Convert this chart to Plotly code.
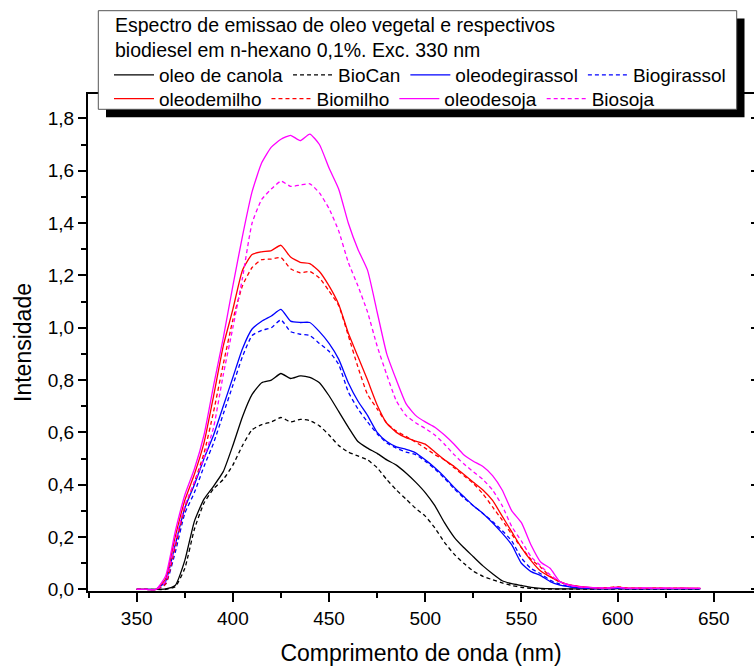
import plotly.graph_objects as go

# ---------------- data ----------------
wavelength = [350, 355, 360, 365, 370, 375, 380, 385, 390, 395,
              400, 405, 410, 415, 420, 425, 430, 435, 440, 445,
              450, 455, 460, 465, 470, 475, 480, 485, 490, 495,
              500, 505, 510, 515, 520, 525, 530, 535, 540, 545,
              550, 555, 560, 565, 570, 575, 580, 585, 590, 595,
              600, 605, 610, 615, 620, 625, 630, 635, 640, 643]

oleo_canola = [0, 0, 0, 0.002, 0.015, 0.11, 0.26, 0.345, 0.395, 0.45,
               0.55, 0.66, 0.745, 0.79, 0.80, 0.825, 0.806, 0.816, 0.81, 0.79,
               0.74, 0.68, 0.62, 0.565, 0.54, 0.52, 0.495, 0.475, 0.445, 0.41,
               0.37, 0.32, 0.255, 0.20, 0.16, 0.125, 0.09, 0.06, 0.033, 0.022,
               0.015, 0.008, 0.004, 0.003, 0.002, 0.002, 0.002, 0.002, 0.002, 0.002,
               0.003, 0.002, 0.002, 0.002, 0.002, 0.002, 0.002, 0.002, 0.002, 0.002]

biocan = [0, 0, 0, 0, 0.01, 0.08, 0.23, 0.33, 0.385, 0.42,
          0.475, 0.55, 0.61, 0.63, 0.64, 0.657, 0.64, 0.65, 0.645, 0.625,
          0.59, 0.55, 0.525, 0.51, 0.495, 0.465, 0.42, 0.38, 0.345, 0.31,
          0.28, 0.235, 0.18, 0.135, 0.10, 0.07, 0.05, 0.037, 0.025, 0.015,
          0.008, 0.004, 0.002, 0.001, 0.001, 0.001, 0.001, 0.001, 0.001, 0.001,
          0.002, 0.001, 0.001, 0.001, 0.001, 0.001, 0.001, 0.001, 0.001, 0.001]

oleo_girassol = [0, 0, 0, 0.03, 0.17, 0.31, 0.40, 0.50, 0.59, 0.70,
                 0.81, 0.92, 0.995, 1.025, 1.045, 1.07, 1.025, 1.02, 1.02, 0.985,
                 0.94, 0.88, 0.79, 0.72, 0.665, 0.60, 0.565, 0.545, 0.535, 0.522,
                 0.495, 0.465, 0.43, 0.39, 0.355, 0.32, 0.29, 0.255, 0.215, 0.17,
                 0.10, 0.068, 0.053, 0.03, 0.016, 0.01, 0.006, 0.004, 0.003, 0.003,
                 0.004, 0.003, 0.003, 0.003, 0.003, 0.003, 0.003, 0.003, 0.003, 0.003]

biogirassol = [0, 0, 0, 0.02, 0.14, 0.29, 0.37, 0.47, 0.56, 0.67,
               0.78, 0.89, 0.97, 0.99, 1.0, 1.03, 0.985, 0.975, 0.97, 0.94,
               0.91, 0.86, 0.755, 0.69, 0.64, 0.595, 0.56, 0.54, 0.525, 0.515,
               0.49, 0.46, 0.425, 0.385, 0.35, 0.32, 0.29, 0.26, 0.225, 0.185,
               0.12, 0.08, 0.06, 0.035, 0.02, 0.01, 0.006, 0.004, 0.003, 0.003,
               0.004, 0.003, 0.003, 0.003, 0.003, 0.003, 0.003, 0.003, 0.003, 0.003]

oleo_milho = [0, 0, 0, 0.04, 0.20, 0.34, 0.44, 0.56, 0.74, 0.93,
              1.07, 1.22, 1.28, 1.29, 1.295, 1.315, 1.27, 1.25, 1.245, 1.215,
              1.16, 1.09, 0.98, 0.89, 0.80, 0.705, 0.635, 0.60, 0.58, 0.567,
              0.555, 0.525, 0.495, 0.47, 0.44, 0.41, 0.38, 0.34, 0.28, 0.22,
              0.16, 0.11, 0.07, 0.048, 0.03, 0.017, 0.012, 0.008, 0.006, 0.005,
              0.009, 0.005, 0.005, 0.004, 0.005, 0.004, 0.004, 0.005, 0.004, 0.004]

biomilho = [0, 0, 0, 0.02, 0.16, 0.31, 0.41, 0.52, 0.68, 0.86,
            1.03, 1.16, 1.23, 1.26, 1.262, 1.268, 1.225, 1.21, 1.215, 1.19,
            1.14, 1.085, 0.97, 0.85, 0.745, 0.69, 0.635, 0.605, 0.585, 0.563,
            0.54, 0.515, 0.495, 0.465, 0.435, 0.405, 0.365, 0.315, 0.265, 0.21,
            0.16, 0.115, 0.085, 0.05, 0.028, 0.017, 0.01, 0.007, 0.006, 0.007,
            0.01, 0.005, 0.005, 0.004, 0.005, 0.004, 0.005, 0.004, 0.004, 0.004]

oleo_soja = [0, 0, 0, 0.05, 0.22, 0.36, 0.46, 0.59, 0.78, 0.96,
             1.16, 1.35, 1.52, 1.63, 1.69, 1.72, 1.735, 1.715, 1.74, 1.70,
             1.61, 1.53, 1.40, 1.30, 1.22, 1.06, 0.90, 0.80, 0.71, 0.665,
             0.64, 0.62, 0.59, 0.555, 0.515, 0.49, 0.47, 0.435, 0.38, 0.30,
             0.255, 0.17, 0.105, 0.08, 0.03, 0.017, 0.01, 0.008, 0.006, 0.005,
             0.008, 0.004, 0.005, 0.006, 0.004, 0.005, 0.004, 0.005, 0.004, 0.004]

biosoja = [0, 0, 0, 0.03, 0.18, 0.32, 0.41, 0.50, 0.62, 0.82,
           1.0, 1.19, 1.40, 1.49, 1.53, 1.56, 1.54, 1.545, 1.55, 1.515,
           1.455, 1.37, 1.25, 1.16, 1.06, 0.93, 0.82, 0.72, 0.665, 0.637,
           0.615, 0.59, 0.555, 0.515, 0.48, 0.45, 0.42, 0.38, 0.32, 0.24,
           0.185, 0.125, 0.09, 0.055, 0.03, 0.015, 0.01, 0.008, 0.006, 0.006,
           0.008, 0.005, 0.004, 0.005, 0.004, 0.005, 0.004, 0.004, 0.005, 0.004]

series_names = ["oleo de canola", "BioCan", "oleodegirassol", "Biogirassol",
                "oleodemilho", "Biomilho", "oleodesoja", "Biosoja"]
series_values = [oleo_canola, biocan, oleo_girassol, biogirassol,
                 oleo_milho, biomilho, oleo_soja, biosoja]
series_colors = ["#000000", "#000000", "#0000FF", "#0000FF",
                 "#FF0000", "#FF0000", "#FF00FF", "#FF00FF"]
series_dash = ["solid", "4px,3px", "solid", "4px,3px",
               "solid", "4px,3px", "solid", "4px,3px"]
series_legend = ["legend", "legend", "legend", "legend",
                 "legend2", "legend2", "legend2", "legend2"]

x_ticks = [350, 400, 450, 500, 550, 600, 650]
y_ticks = [0.0, 0.2, 0.4, 0.6, 0.8, 1.0, 1.2, 1.4, 1.6, 1.8]

title_line1 = "Espectro de emissao de oleo vegetal e respectivos"
title_line2 = "biodiesel em n-hexano 0,1%. Exc. 330 nm"

for v in series_values:
    assert len(v) == len(wavelength)

# ---------------- layout geometry (pixels) ----------------
W, H = 754, 666
ML, MR, MT, MB = 88, 0, 94, 75
PW = W - ML - MR
PH = H - MT - MB


def px(x):
    return (x - ML) / PW


def py(y):
    return (H - MB - y) / PH


FONT = "Liberation Sans, Arial, sans-serif"

fig = go.Figure()
for name, vals, col, dash, lg in zip(series_names, series_values, series_colors,
                                     series_dash, series_legend):
    fig.add_trace(go.Scatter(
        x=wavelength, y=vals, name=name, mode="lines",
        line=dict(color=col, width=1.3, dash=dash, shape="spline", smoothing=0.5),
        legend=lg,
    ))

# dummy trace for the right-side tick axis
fig.add_trace(go.Scatter(x=[None], y=[None], yaxis="y2", showlegend=False,
                         hoverinfo="skip"))

legend_common = dict(
    orientation="h", xanchor="left", yanchor="middle",
    font=dict(family=FONT, size=19, color="black"),
    bgcolor="rgba(0,0,0,0)", borderwidth=0, itemwidth=40,
)

fig.update_layout(
    width=W, height=H,
    margin=dict(l=ML, r=MR, t=MT, b=MB, autoexpand=False),
    paper_bgcolor="white", plot_bgcolor="white",
    separators=",.",
    font=dict(family=FONT, color="black"),
    legend=dict(x=px(109), y=py(75), **legend_common),
    legend2=dict(x=px(109), y=py(98.7), **legend_common),
    xaxis=dict(
        range=[324.7, 670.9], tickvals=x_ticks,
        ticks="outside", ticklen=9, tickwidth=1.5, tickcolor="black",
        minor=dict(dtick=25, tick0=350, ticks="outside", ticklen=5,
                   tickwidth=1.5, tickcolor="black"),
        showline=True, linewidth=2, linecolor="black", mirror=True,
        showgrid=False, zeroline=False,
        tickfont=dict(family=FONT, size=19),
        title=dict(text="Comprimento de onda (nm)",
                   font=dict(family=FONT, size=23), standoff=19),
    ),
    yaxis=dict(
        range=[-0.006, 1.893], tickvals=y_ticks, tickformat=".1f",
        ticks="outside", ticklen=8, tickwidth=1.5, tickcolor="black",
        minor=dict(dtick=0.1, tick0=0, ticks="outside", ticklen=5,
                   tickwidth=1.5, tickcolor="black"),
        showline=True, linewidth=2, linecolor="black",
        showgrid=False, zeroline=False,
        tickfont=dict(family=FONT, size=19),
        title=dict(text="Intensidade", font=dict(family=FONT, size=23),
                   standoff=10),
    ),
    yaxis2=dict(
        overlaying="y", side="right", range=[-0.006, 1.893], tickvals=y_ticks,
        ticks="inside", ticklen=3, tickwidth=2, tickcolor="black",
        showticklabels=False, showline=False, showgrid=False, zeroline=False,
    ),
    shapes=[
        # legend shadow
        dict(type="rect", xref="paper", yref="paper", layer="above",
             x0=px(106), x1=px(744.5), y0=py(117.3), y1=py(18.5),
             fillcolor="black", line=dict(width=0)),
        # legend box
        dict(type="rect", xref="paper", yref="paper", layer="above",
             x0=px(98.3), x1=px(736.7), y0=py(109.3), y1=py(10.7),
             fillcolor="white", line=dict(color="#555555", width=1)),
    ],
    annotations=[
        dict(text=title_line1, xref="paper", yref="paper", x=px(113), y=py(25.5),
             xanchor="left", yanchor="middle", showarrow=False,
             font=dict(family=FONT, size=19.5, color="black")),
        dict(text=title_line2, xref="paper", yref="paper", x=px(113), y=py(49.5),
             xanchor="left", yanchor="middle", showarrow=False,
             font=dict(family=FONT, size=19.5, color="black")),
    ],
)

fig.write_html("out.html")
